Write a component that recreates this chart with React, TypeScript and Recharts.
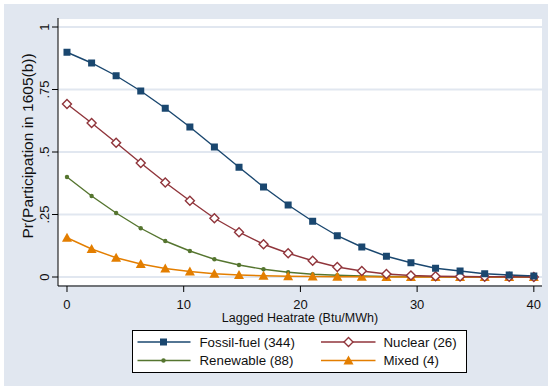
import React from 'react';
import { LineChart, Line, XAxis, YAxis, CartesianGrid } from 'recharts';

const heatrate = [0, 2.11, 4.21, 6.32, 8.42, 10.53, 12.63, 14.74, 16.84, 18.95, 21.05, 23.16, 25.26, 27.37, 29.47, 31.58, 33.68, 35.79, 37.89, 40];
const fossil = [0.899, 0.856, 0.805, 0.744, 0.675, 0.6, 0.52, 0.439, 0.36, 0.288, 0.223, 0.165, 0.12, 0.083, 0.057, 0.035, 0.024, 0.013, 0.008, 0.004];
const nuclear = [0.692, 0.616, 0.537, 0.456, 0.378, 0.305, 0.235, 0.179, 0.131, 0.095, 0.065, 0.04, 0.024, 0.012, 0.006, 0.003, 0.002, 0.001, 0.001, 0.0];
const renewable = [0.4, 0.324, 0.256, 0.195, 0.144, 0.104, 0.071, 0.048, 0.031, 0.019, 0.011, 0.007, 0.004, 0.002, 0.001, 0.001, 0.0, 0.0, 0.0, 0.0];
const mixed = [0.157, 0.112, 0.077, 0.052, 0.034, 0.022, 0.013, 0.008, 0.005, 0.003, 0.002, 0.001, 0.001, 0, 0, 0, 0, 0, 0, 0];

const xTicks = [0, 10, 20, 30, 40];
const yTicks = [0, 0.25, 0.5, 0.75, 1];
const yTickLabels = ['0', '.25', '.5', '.75', '1'];

const legendLabels = ['Fossil-fuel (344)', 'Nuclear (26)', 'Renewable (88)', 'Mixed (4)'];

const data = heatrate.map((x, i) => ({
  x,
  fossil: fossil[i],
  nuclear: nuclear[i],
  renewable: renewable[i],
  mixed: mixed[i],
}));

const NAVY = '#1a476f';
const MAROON = '#90353b';
const GREEN = '#55752f';
const ORANGE = '#e37e00';
const BG = '#e1e7f0';
const FONT = '"Liberation Sans", Arial, sans-serif';

const square = (cx: number, cy: number, k?: any) => (
  <rect key={k} x={cx - 3.5} y={cy - 3.5} width={7} height={7} fill={NAVY} />
);
const diamond = (cx: number, cy: number, k?: any) => (
  <polygon key={k} points={`${cx},${cy - 4.5} ${cx + 4.5},${cy} ${cx},${cy + 4.5} ${cx - 4.5},${cy}`}
    fill="#fff" stroke={MAROON} strokeWidth={1.4} />
);
const circle = (cx: number, cy: number, k?: any) => (
  <circle key={k} cx={cx} cy={cy} r={2.2} fill={GREEN} />
);
const triangle = (cx: number, cy: number, k?: any) => (
  <polygon key={k} points={`${cx},${cy - 5} ${cx + 5},${cy + 4} ${cx - 5},${cy + 4}`} fill={ORANGE} />
);

const dotOf = (fn: any) => (p: any) => {
  if (p.cx == null || p.cy == null) return <g key={p.key ?? p.index} />;
  return fn(p.cx, p.cy, p.key ?? `d-${p.index}`);
};

const XTick = (p: any) => {
  const { x, y, payload } = p;
  return (
    <text x={x} y={y + 15} textAnchor="middle" fontSize={13} fontFamily={FONT} fill="#111">
      {payload.value}
    </text>
  );
};

const YTick = (p: any) => {
  const { x, y, payload } = p;
  const idx = yTicks.indexOf(payload.value);
  const bx = x - 1;
  return (
    <text x={bx} y={y} transform={`rotate(-90, ${bx}, ${y})`} textAnchor="middle" fontSize={13}
      fontFamily={FONT} fill="#111">
      {idx >= 0 ? yTickLabels[idx] : payload.value}
    </text>
  );
};

const Legend = () => {
  const rows = [
    { y: 12, items: [0, 1] },
    { y: 30.5, items: [2, 3] },
  ];
  const colors = [NAVY, MAROON, GREEN, ORANGE];
  const shapes = [square, diamond, circle, triangle];
  const cols = [{ x1: 5.5, x2: 58.5, m: 31.5, t: 67.5 }, { x1: 189, x2: 243.5, m: 216.5, t: 251.5 }];
  return (
    <svg width={335} height={43} style={{ position: 'absolute', left: 132, top: 330 }}>
      <rect x={0.5} y={0.5} width={334} height={42} fill="#fff" stroke="#000" strokeWidth={1} />
      {rows.map((r) =>
        r.items.map((s, ci) => {
          const c = cols[ci];
          return (
            <g key={s}>
              <line x1={c.x1} x2={c.x2} y1={r.y} y2={r.y} stroke={colors[s]} strokeWidth={1.4} />
              {shapes[s](c.m, r.y)}
              <text x={c.t} y={r.y + 4.8} fontSize={13.3} fontFamily={FONT} fill="#111">
                {legendLabels[s]}
              </text>
            </g>
          );
        })
      )}
    </svg>
  );
};

export default function App() {
  return (
    <div style={{ position: 'absolute', left: 0, top: 0, width: 550, height: 390, background: '#fff' }}>
      <div style={{ position: 'absolute', left: 4, top: 4, width: 544, height: 382, background: BG }} />
      <div style={{ position: 'absolute', left: 0, top: 0 }}>
        <LineChart width={550} height={390} data={data} margin={{ top: 18, right: 8, left: 18, bottom: 74 }}>
          <CartesianGrid vertical={false} fill="#fff" stroke={BG} strokeWidth={2} />
          <XAxis
            dataKey="x"
            type="number"
            domain={[-0.77, 40.7]}
            ticks={xTicks}
            allowDataOverflow
            height={30}
            stroke="#000"
            tickSize={6}
            tick={<XTick />}
            interval={0}
          />
          <YAxis
            type="number"
            domain={[-0.036, 1.036]}
            ticks={yTicks}
            allowDataOverflow
            width={40}
            stroke="#000"
            tickSize={6}
            tick={<YTick />}
            interval={0}
          />
          <Line dataKey="renewable" stroke={GREEN} strokeWidth={1.4} dot={dotOf(circle)} isAnimationActive={false} />
          <Line dataKey="mixed" stroke={ORANGE} strokeWidth={1.4} dot={dotOf(triangle)} isAnimationActive={false} />
          <Line dataKey="nuclear" stroke={MAROON} strokeWidth={1.4} dot={dotOf(diamond)} isAnimationActive={false} />
          <Line dataKey="fossil" stroke={NAVY} strokeWidth={1.4} dot={dotOf(square)} isAnimationActive={false} />
        </LineChart>
      </div>
      <svg width={550} height={390} style={{ position: 'absolute', left: 0, top: 0, pointerEvents: 'none' }}>
        <text x={33} y={146} transform="rotate(-90, 33, 146)" textAnchor="middle" fontSize={15.5}
          fontFamily={FONT} fill="#111">
          Pr(Participation in 1605(b))
        </text>
        <text x={300} y={322} textAnchor="middle" fontSize={12.5} fontFamily={FONT} fill="#111">
          Lagged Heatrate (Btu/MWh)
        </text>
      </svg>
      <Legend />
    </div>
  );
}
